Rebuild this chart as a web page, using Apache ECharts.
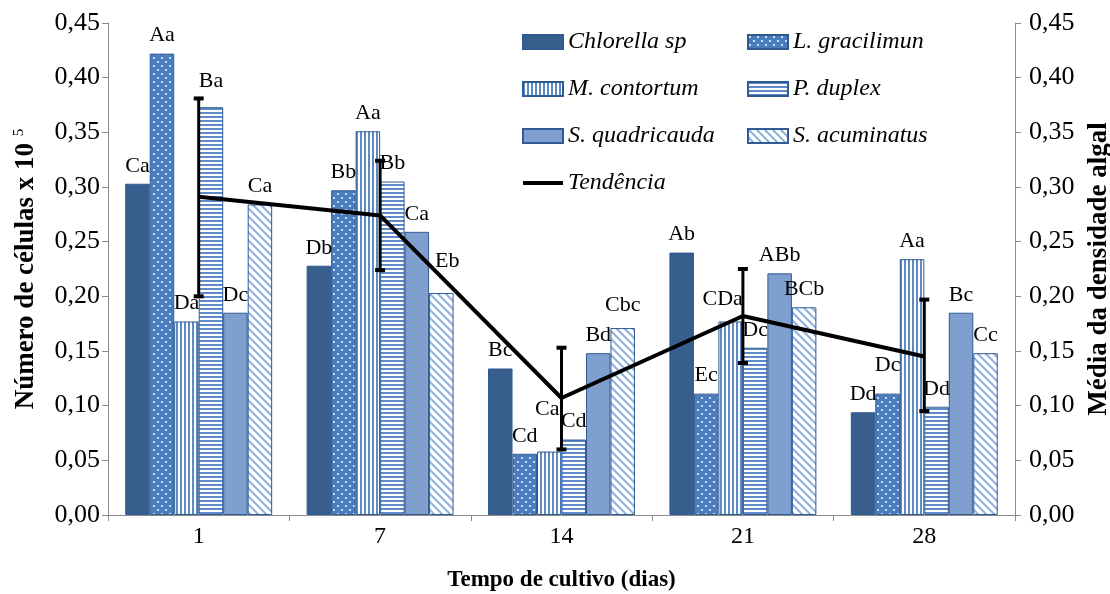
<!DOCTYPE html>
<html>
<head>
<meta charset="utf-8">
<script src="https://cdn.jsdelivr.net/npm/echarts@6/dist/echarts.min.js"></script>
<style>
html,body{margin:0;padding:0;background:#fff;}
#chart{width:1110px;height:594px;}
</style>
</head>
<body>
<div id="chart"></div>
<script>
// ---- data ----
var categories = ['1', '7', '14', '21', '28'];
var seriesNames = ['Chlorella sp', 'L. gracilimun', 'M. contortum', 'P. duplex', 'S. quadricauda', 'S. acuminatus'];
var chlorella = [0.303, 0.228, 0.134, 0.240, 0.094];
var gracilimun = [0.422, 0.297, 0.056, 0.111, 0.111];
var contortum = [0.177, 0.351, 0.058, 0.177, 0.234];
var duplex = [0.373, 0.305, 0.069, 0.153, 0.099];
var quadricauda = [0.185, 0.259, 0.148, 0.221, 0.185];
var acuminatus = [0.284, 0.203, 0.171, 0.190, 0.148];
var chlorellaLabels = ['Ca', 'Db', 'Bc', 'Ab', 'Dd'];
var gracilimunLabels = ['Aa', 'Bb', 'Cd', 'Ec', 'Dc'];
var contortumLabels = ['Da', 'Aa', 'Ca', 'CDa', 'Aa'];
var duplexLabels = ['Ba', 'Bb', 'Cd', 'Dc', 'Dd'];
var quadricaudaLabels = ['Dc', 'Ca', 'Bd', 'ABb', 'Bc'];
var acuminatusLabels = ['Ca', 'Eb', 'Cbc', 'BCb', 'Cc'];
var trend = [0.291, 0.274, 0.107, 0.182, 0.145];
var trendLow = [0.200, 0.224, 0.060, 0.139, 0.095];
var trendHigh = [0.381, 0.324, 0.153, 0.225, 0.197];
var yTicks = [0, 0.05, 0.10, 0.15, 0.20, 0.25, 0.30, 0.35, 0.40, 0.45];

// ---- patterns ----
function mk(w, h, draw) {
  var c = document.createElement('canvas');
  c.width = w; c.height = h;
  draw(c.getContext('2d'));
  return c;
}
var dots = mk(8, 8, function (g) {
  g.fillStyle = '#4A7DBE'; g.fillRect(0, 0, 8, 8);
  g.fillStyle = '#EAF1FA';
  g.beginPath(); g.arc(2, 2, 1.1, 0, Math.PI * 2); g.fill();
  g.beginPath(); g.arc(6, 6, 1.1, 0, Math.PI * 2); g.fill();
});
var vstripes = mk(4, 4, function (g) {
  g.fillStyle = '#FFFFFF'; g.fillRect(0, 0, 4, 4);
  g.fillStyle = '#5E8BC8'; g.fillRect(0, 0, 2, 4);
});
var hstripes = mk(4, 4, function (g) {
  g.fillStyle = '#FFFFFF'; g.fillRect(0, 0, 4, 4);
  g.fillStyle = '#5E8BC8'; g.fillRect(0, 0, 4, 2);
});
var diag = mk(8, 8, function (g) {
  g.fillStyle = '#FFFFFF'; g.fillRect(0, 0, 8, 8);
  g.strokeStyle = '#8FB0DC'; g.lineWidth = 2;
  g.beginPath();
  g.moveTo(-2, -2); g.lineTo(10, 10);
  g.moveTo(-2, 6); g.lineTo(2, 10);
  g.moveTo(6, -2); g.lineTo(10, 2);
  g.stroke();
});

var fills = [
  '#375E8C',
  { image: dots, repeat: 'repeat' },
  { image: vstripes, repeat: 'repeat' },
  { image: hstripes, repeat: 'repeat' },
  '#7F9FCF',
  { image: diag, repeat: 'repeat' }
];
var values = [chlorella, gracilimun, contortum, duplex, quadricauda, acuminatus];
var labelSets = [chlorellaLabels, gracilimunLabels, contortumLabels, duplexLabels, quadricaudaLabels, acuminatusLabels];
var labelOffsets = {
  '3-0': [0, -8],
  '5-1': [6, -14],
  '1-4': [0, -10],
  '5-2': [0, -5],
  '2-2': [-2, -24],
  '2-3': [-8, -4]
};

var serif = 'Liberation Serif, Times New Roman, serif';

var series = values.map(function (vals, si) {
  return {
    name: seriesNames[si],
    type: 'bar',
    barGap: '0%',
    barCategoryGap: '19%',
    itemStyle: { color: fills[si], borderColor: '#2F5A92', borderWidth: 1 },
    label: { show: true, position: 'top', distance: 7, color: '#000', fontFamily: serif, fontSize: 22 },
    data: vals.map(function (v, ci) {
      var d = { value: v, label: { formatter: labelSets[si][ci] } };
      var off = labelOffsets[si + '-' + ci];
      if (off) d.label.offset = off;
      return d;
    })
  };
});

series.push({
  name: 'Tendência',
  type: 'line',
  yAxisIndex: 1,
  symbol: 'none',
  lineStyle: { color: '#000', width: 4 },
  itemStyle: { color: '#000' },
  z: 5,
  data: trend
});

series.push({
  name: 'err',
  type: 'custom',
  yAxisIndex: 1,
  z: 6,
  renderItem: function (params, api) {
    var x = api.value(0);
    var lo = api.coord([x, api.value(1)]);
    var hi = api.coord([x, api.value(2)]);
    var cw = 5;
    return {
      type: 'group',
      children: [
        { type: 'line', shape: { x1: lo[0], y1: lo[1], x2: hi[0], y2: hi[1] }, style: { stroke: '#000', lineWidth: 3 } },
        { type: 'line', shape: { x1: lo[0] - cw, y1: lo[1], x2: lo[0] + cw, y2: lo[1] }, style: { stroke: '#000', lineWidth: 4 } },
        { type: 'line', shape: { x1: hi[0] - cw, y1: hi[1], x2: hi[0] + cw, y2: hi[1] }, style: { stroke: '#000', lineWidth: 4 } }
      ]
    };
  },
  data: trend.map(function (v, i) { return [i, trendLow[i], trendHigh[i]]; })
});

function fmt(v) { return v.toFixed(2).replace('.', ','); }

var axisLine = { show: true, lineStyle: { color: '#8C8C8C', width: 1 } };
var legendText = { fontFamily: serif, fontStyle: 'italic', fontSize: 24, color: '#000', lineHeight: 26 };
var lineIcon = 'path://M0,0 L40,0 L40,4 L0,4 Z';

var option = {
  backgroundColor: '#fff',
  animation: false,
  grid: { left: 108, right: 95, top: 23, bottom: 79, outerBoundsMode: 'none', containLabel: false },
  legend: [
    {
      left: 517, top: 24, orient: 'vertical', itemGap: 21, itemWidth: 40, itemHeight: 14,
      textStyle: legendText, icon: 'rect',
      data: ['Chlorella sp', 'M. contortum', 'S. quadricauda', { name: 'Tendência', icon: lineIcon }]
    },
    {
      left: 742, top: 24, orient: 'vertical', itemGap: 21, itemWidth: 40, itemHeight: 14,
      textStyle: legendText, icon: 'rect',
      data: ['L. gracilimun', 'P. duplex', 'S. acuminatus']
    }
  ],
  xAxis: {
    type: 'category',
    data: categories,
    axisLine: axisLine,
    axisTick: { show: true, length: 6, lineStyle: { color: '#8C8C8C' } },
    axisLabel: { fontFamily: serif, fontSize: 24, color: '#000', margin: 10 },
    name: 'Tempo de cultivo (dias)',
    nameLocation: 'middle',
    nameGap: 54,
    nameTextStyle: { fontFamily: serif, fontSize: 23, fontWeight: 'bold', color: '#000' }
  },
  yAxis: [
    {
      type: 'value', min: 0, max: 0.45, interval: 0.05,
      axisLine: axisLine,
      axisTick: { show: true, length: 6, lineStyle: { color: '#8C8C8C' } },
      splitLine: { show: false },
      axisLabel: { fontFamily: serif, fontSize: 26, color: '#000', margin: 8, formatter: fmt },
      name: 'Número de células x 10 {sup|5}',
      nameLocation: 'middle',
      nameGap: 67,
      nameTextStyle: {
        fontFamily: serif, fontSize: 27, fontWeight: 'bold', color: '#000',
        rich: { sup: { fontFamily: serif, fontSize: 15, fontWeight: 'normal', color: '#000', verticalAlign: 'top', padding: [0, 0, 14, 0] } }
      }
    },
    {
      type: 'value', min: 0, max: 0.45, interval: 0.05, position: 'right',
      axisLine: axisLine,
      axisTick: { show: true, length: 6, lineStyle: { color: '#8C8C8C' } },
      splitLine: { show: false },
      axisLabel: { fontFamily: serif, fontSize: 26, color: '#000', margin: 14, formatter: fmt },
      name: 'Média da densidade algal',
      nameLocation: 'middle',
      nameGap: 67,
      nameRotate: 90,
      nameTextStyle: { fontFamily: serif, fontSize: 27, fontWeight: 'bold', color: '#000' }
    }
  ],
  series: series
};

var chart = echarts.init(document.getElementById('chart'), null, { renderer: 'canvas' });
chart.setOption(option);
</script>
</body>
</html>
